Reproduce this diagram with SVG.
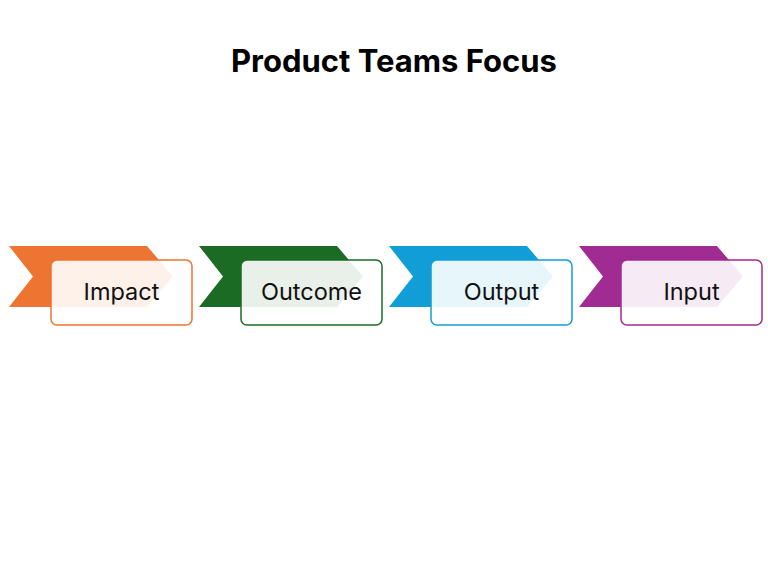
<svg xmlns="http://www.w3.org/2000/svg" width="768" height="576" viewBox="0 0 768 576">
<style>
.title{font-family:Inter,"Liberation Sans",sans-serif;font-weight:bold;font-size:31px;fill:#000;text-anchor:middle}
.lbl{font-family:Inter,"Liberation Sans",sans-serif;font-size:23.5px;fill:#111;text-anchor:middle}
.box{fill:#fff;fill-opacity:0.9;stroke-width:1.5}
</style>
<defs>
<path id="chev" d="M9,246 L147,246 L173,276.5 L147,307 L9,307 L33,276.5 Z"/>
</defs>
<rect width="768" height="576" fill="#fff"/>
<text class="title" x="394" y="72">Product Teams Focus</text>
<g id="node-impact">
<use href="#chev" fill="#ED7431"/>
<rect class="box" x="51" y="260" width="141" height="65" rx="6" stroke="#ED7431"/>
<text class="lbl" x="121.5" y="300">Impact</text>
</g>
<g id="node-outcome" transform="translate(190,0)">
<use href="#chev" fill="#1B6B24"/>
<rect class="box" x="51" y="260" width="141" height="65" rx="6" stroke="#1B6B24"/>
<text class="lbl" x="121.5" y="300">Outcome</text>
</g>
<g id="node-output" transform="translate(380,0)">
<use href="#chev" fill="#119ED6"/>
<rect class="box" x="51" y="260" width="141" height="65" rx="6" stroke="#119ED6"/>
<text class="lbl" x="121.5" y="300">Output</text>
</g>
<g id="node-input" transform="translate(570,0)">
<use href="#chev" fill="#A02B93"/>
<rect class="box" x="51" y="260" width="141" height="65" rx="6" stroke="#A02B93"/>
<text class="lbl" x="121.5" y="300">Input</text>
</g>
<g id="connectors"/>
</svg>
